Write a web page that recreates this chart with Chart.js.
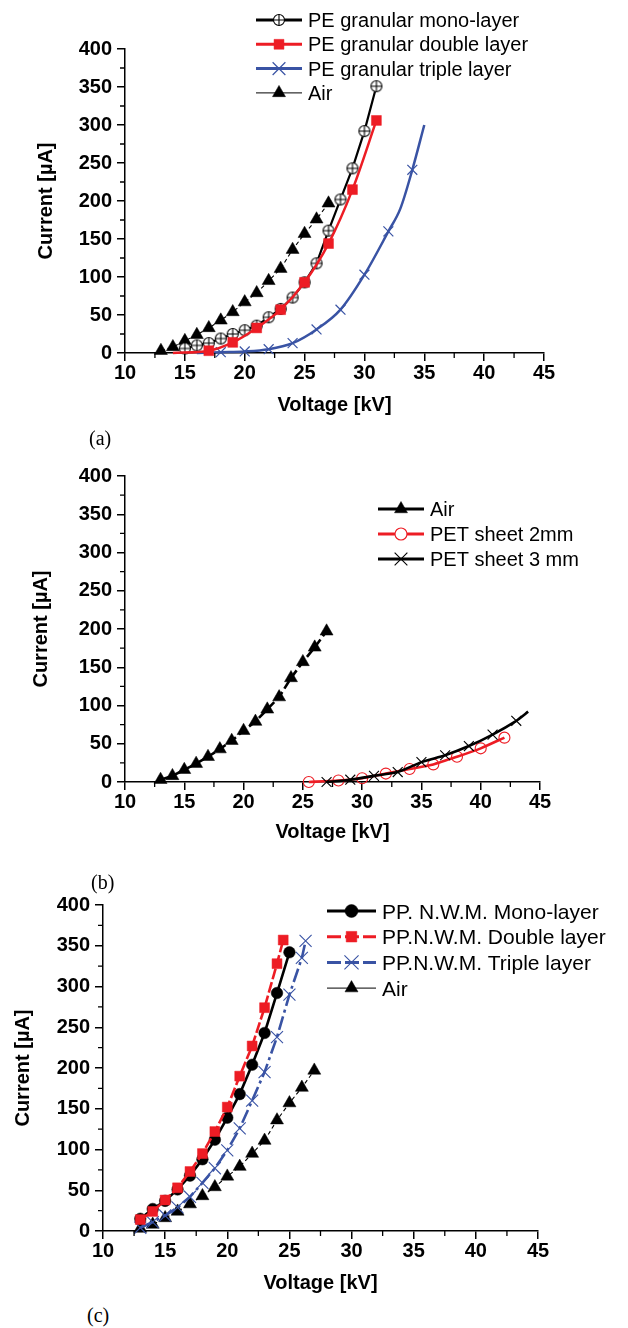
<!DOCTYPE html>
<html><head><meta charset="utf-8">
<script src="https://cdn.jsdelivr.net/npm/chart.js"></script>
<style>
html,body{margin:0;padding:0;background:#fff;}
body{width:628px;height:1328px;position:relative;overflow:hidden;}
canvas{position:absolute;left:0;}
.lab{position:absolute;font-family:"Liberation Serif","Times New Roman",serif;font-size:20px;line-height:20px;color:#000;}
</style></head><body>
<canvas id="ca" width="628" height="425" style="top:0px"></canvas>
<canvas id="cb" width="628" height="420" style="top:430px"></canvas>
<canvas id="cc" width="628" height="420" style="top:880px"></canvas>
<div class="lab" style="left:89px;top:428px">(a)</div>
<div class="lab" style="left:91px;top:872px">(b)</div>
<div class="lab" style="left:87px;top:1305px">(c)</div>
<script>
// ---------- data ----------
const voltageTicks = [10, 15, 20, 25, 30, 35, 40, 45];
const currentTicks = [0, 50, 100, 150, 200, 250, 300, 350, 400];

const airV = [13, 14, 15, 16, 17, 18, 19, 20, 21, 22, 23, 24, 25, 26, 27];
const airI = [3, 8, 16, 24, 33, 43, 54, 67, 79, 95, 111, 136, 157, 176, 197];

// (a) PE granular
const peMonoV = [15, 16, 17, 18, 19, 20, 21, 22, 23, 24, 25, 26, 27, 28, 29, 30, 31];
const peMonoI = [6, 10, 13, 19, 25, 30, 36, 47, 58, 73, 93, 118, 161, 202, 243, 292, 351];
const peDoubleV = [14, 17, 19, 21, 23, 25, 27, 29, 31];
const peDoubleI = [0, 3, 14, 33, 57, 93, 144, 215, 306];
const peTripleV = [16, 18, 20, 22, 24, 26, 28, 30, 32, 33, 34, 35];
const peTripleI = [0, 1, 2, 5, 13, 31, 57, 103, 160, 190, 241, 300];

// (b) PET sheet
const pet2V = [25.5, 28, 30, 32, 34, 36, 38, 40, 42];
const pet2I = [0, 2, 5, 11, 17, 23, 33, 44, 58];
const pet3V = [27, 29, 31, 33, 35, 37, 39, 41, 43, 44];
const pet3I = [0, 3, 8, 13, 26, 35, 47, 62, 80, 92];

// (c) PP N.W.M.
const ppMonoV = [13, 14, 15, 16, 17, 18, 19, 20, 21, 22, 23, 24, 25];
const ppMonoI = [15, 27, 37, 51, 68, 88, 112, 139, 168, 204, 243, 292, 342];
const ppDoubleV = [13, 14, 15, 16, 17, 18, 19, 20, 21, 22, 23, 24, 24.5];
const ppDoubleI = [14, 24, 38, 53, 73, 95, 122, 152, 190, 227, 274, 328, 357];
const ppTripleV = [13, 14, 15, 16, 17, 18, 19, 20, 21, 22, 23, 24, 25, 26, 26.3];
const ppTripleI = [4, 11, 19, 29, 42, 59, 77, 99, 126, 160, 195, 238, 290, 335, 356];

// ---------- styling ----------
const RED = '#ed1c24', BLUE = '#3953a4', BLACK = '#000';
const SANS = '"Liberation Sans", Arial, Helvetica, sans-serif';
Chart.defaults.font.family = SANS;
Chart.defaults.color = '#000';

const pts = (xs, ys) => xs.map((x, i) => ({x: x, y: ys[i]}));

function makeCirclePlus(r) {
  const s = Math.ceil(2 * r + 3);
  const c = document.createElement('canvas');
  c.width = s; c.height = s;
  const g = c.getContext('2d'); const m = s / 2;
  g.fillStyle = '#fff'; g.strokeStyle = '#000'; g.lineWidth = 1.1;
  g.beginPath(); g.arc(m, m, r, 0, Math.PI * 2); g.fill(); g.stroke();
  g.beginPath(); g.moveTo(m, m - r); g.lineTo(m, m + r); g.moveTo(m - r, m); g.lineTo(m + r, m); g.stroke();
  return c;
}
const circlePlus = makeCirclePlus(5.5);

function drawMarker(ctx, st, x, y) {
  const r = st.r, style = st.style;
  ctx.save();
  ctx.setLineDash([]);
  if (typeof style === 'object') {
    ctx.drawImage(style, x - style.width / 2, y - style.height / 2);
    ctx.restore(); return;
  }
  ctx.fillStyle = st.fill || 'transparent';
  ctx.strokeStyle = st.stroke || '#000';
  ctx.lineWidth = st.lw || 1;
  ctx.beginPath();
  if (style === 'circle') {
    ctx.arc(x, y, r, 0, Math.PI * 2);
  } else if (style === 'rect') {
    const s = Math.SQRT1_2 * r;
    ctx.rect(x - s, y - s, 2 * s, 2 * s);
  } else if (style === 'triangle') {
    let a = 0;
    ctx.moveTo(x + Math.sin(a) * r, y - Math.cos(a) * r);
    a += 2 * Math.PI / 3; ctx.lineTo(x + Math.sin(a) * r, y - Math.cos(a) * r);
    a += 2 * Math.PI / 3; ctx.lineTo(x + Math.sin(a) * r, y - Math.cos(a) * r);
    ctx.closePath();
  } else if (style === 'crossRot') {
    const s = Math.SQRT1_2 * r;
    ctx.moveTo(x - s, y - s); ctx.lineTo(x + s, y + s);
    ctx.moveTo(x - s, y + s); ctx.lineTo(x + s, y - s);
  }
  if (st.fill && style !== 'crossRot') ctx.fill();
  if (st.lw > 0) ctx.stroke();
  ctx.restore();
}

const boxLegend = {
  id: 'boxLegend',
  afterDraw(chart, args, o) {
    if (!o || !o.items) return;
    const ctx = chart.ctx;
    ctx.save();
    o.items.forEach((it, i) => {
      const y = o.y0 + i * o.dy;
      ctx.strokeStyle = it.color; ctx.lineWidth = it.lw;
      ctx.setLineDash(it.dash || []);
      ctx.beginPath(); ctx.moveTo(o.x0, y); ctx.lineTo(o.x1, y); ctx.stroke();
      drawMarker(ctx, it.marker, (o.x0 + o.x1) / 2, y);
      ctx.fillStyle = '#000'; ctx.font = o.font;
      ctx.textBaseline = 'alphabetic'; ctx.textAlign = 'left';
      ctx.fillText(it.label, o.tx, y + o.capHalf);
    });
    ctx.restore();
  }
};

const minorTicks = {
  id: 'minorTicks',
  afterDraw(chart) {
    const {ctx, scales, chartArea} = chart;
    ctx.save(); ctx.strokeStyle = '#000'; ctx.lineWidth = 1.3; ctx.beginPath();
    for (let i = 0; i < voltageTicks.length - 1; i++) {
      const px = scales.x.getPixelForValue((voltageTicks[i] + voltageTicks[i + 1]) / 2);
      ctx.moveTo(px, chartArea.bottom); ctx.lineTo(px, chartArea.bottom + 5);
    }
    for (let i = 0; i < currentTicks.length - 1; i++) {
      const py = scales.y.getPixelForValue((currentTicks[i] + currentTicks[i + 1]) / 2);
      ctx.moveTo(chartArea.left, py); ctx.lineTo(chartArea.left - 5, py);
    }
    ctx.stroke(); ctx.restore();
  }
};

function scalesCfg(L) {
  const tickFont = {family: SANS, size: 20, weight: 'bold'};
  const titleFont = {family: SANS, size: 20, weight: 'bold'};
  return {
    x: {
      type: 'linear', min: 10, max: 45,
      afterBuildTicks: s => { s.ticks = voltageTicks.map(v => ({value: v})); },
      afterFit: s => { s.height = L.xH; },
      ticks: {font: tickFont, color: '#000', padding: 0, maxRotation: 0, autoSkip: false},
      grid: {drawOnChartArea: false, tickLength: 8, color: '#000', lineWidth: 1.5},
      border: {display: true, color: '#000', width: 1.5},
      title: {display: true, text: 'Voltage [kV]', font: titleFont, color: '#000', padding: {top: 0, bottom: L.xPad}}
    },
    y: {
      type: 'linear', min: 0, max: 400,
      afterBuildTicks: s => { s.ticks = currentTicks.map(v => ({value: v})); },
      afterFit: s => { s.width = L.yW; },
      ticks: {font: tickFont, color: '#000', padding: 5},
      grid: {drawOnChartArea: false, tickLength: 8, color: '#000', lineWidth: 1.5},
      border: {display: true, color: '#000', width: 1.5},
      title: {display: true, text: 'Current [µA]', font: titleFont, color: '#000', padding: {top: L.yPad, bottom: 0}}
    }
  };
}

function makeChart(id, datasets, L, legend) {
  return new Chart(document.getElementById(id), {
    type: 'line',
    data: {datasets: datasets},
    options: {
      responsive: false, animation: false, devicePixelRatio: 1,
      layout: {padding: {top: L.top, right: L.right, left: 0, bottom: 0}},
      scales: scalesCfg(L),
      plugins: {legend: {display: false}, tooltip: {enabled: false}, boxLegend: legend}
    },
    plugins: [minorTicks, boxLegend]
  });
}

// ---------- chart (a) ----------
const peDoubleNoMarker = [14];
const peTripleNoMarker = [16, 33, 35];
const aMono = {label: 'PE granular mono-layer', data: pts(peMonoV, peMonoI), borderColor: BLACK, borderWidth: 2.2,
  pointStyle: circlePlus, pointRadius: 6, order: 1, clip: false, tension: 0};
const aDouble = {label: 'PE granular double layer', data: pts(peDoubleV, peDoubleI), borderColor: RED, borderWidth: 2.5,
  pointStyle: 'rect', pointRadius: c => peDoubleNoMarker.includes(c.raw && c.raw.x) ? 0 : 7, pointBackgroundColor: RED,
  pointBorderColor: RED, pointBorderWidth: 0.5, cubicInterpolationMode: 'monotone', order: 0, clip: false};
const aTriple = {label: 'PE granular triple layer', data: pts(peTripleV, peTripleI), borderColor: BLUE, borderWidth: 2.5,
  pointStyle: 'crossRot', pointRadius: c => peTripleNoMarker.includes(c.raw && c.raw.x) ? 0 : 7,
  pointBorderColor: BLUE, pointBorderWidth: 1.2, cubicInterpolationMode: 'monotone', order: 2, clip: false};
const aAir = {label: 'Air', data: pts(airV, airI), borderColor: BLACK, borderWidth: 1.1, borderDash: [4, 3],
  pointStyle: 'triangle', pointRadius: 7.5, pointBackgroundColor: BLACK, pointBorderColor: BLACK, pointBorderWidth: 0.5,
  order: 3, clip: false, tension: 0};

makeChart('ca', [aMono, aDouble, aTriple, aAir],
  {top: 49, right: 84, yW: 125, xH: 72, yPad: 34, xPad: 8},
  {x0: 256, x1: 302, tx: 308, y0: 20, dy: 24.3, capHalf: 7, font: '20px ' + SANS, items: [
    {label: aMono.label, color: BLACK, lw: 3, marker: {style: circlePlus}},
    {label: aDouble.label, color: RED, lw: 3, marker: {style: 'rect', r: 7, fill: RED, stroke: RED, lw: 0.5}},
    {label: aTriple.label, color: BLUE, lw: 3, marker: {style: 'crossRot', r: 9, stroke: BLUE, lw: 1.2}},
    {label: aAir.label, color: BLACK, lw: 1, marker: {style: 'triangle', r: 7.5, fill: BLACK, stroke: BLACK, lw: 0.5}}
  ]});

// ---------- chart (b) ----------
const pet3NoMarker = [44];
const bAir = {label: 'Air', data: pts(airV, airI), borderColor: BLACK, borderWidth: 2.6, borderDash: [9, 4],
  pointStyle: 'triangle', pointRadius: 7.5, pointBackgroundColor: BLACK, pointBorderColor: BLACK, pointBorderWidth: 0.5,
  order: 2, clip: false, tension: 0};
const bPet2 = {label: 'PET sheet 2mm', data: pts(pet2V, pet2I), borderColor: RED, borderWidth: 2.6,
  pointStyle: 'circle', pointRadius: 5.5, pointBackgroundColor: 'rgba(255,255,255,0)', pointBorderColor: RED,
  pointBorderWidth: 1.1, order: 1, clip: false, tension: 0.2};
const bPet3 = {label: 'PET sheet 3 mm', data: pts(pet3V, pet3I), borderColor: BLACK, borderWidth: 2.6,
  pointStyle: 'crossRot', pointRadius: c => pet3NoMarker.includes(c.raw && c.raw.x) ? 0 : 7,
  pointBorderColor: BLACK, pointBorderWidth: 1.1, order: 0, clip: false, tension: 0.2};

makeChart('cb', [bAir, bPet2, bPet3],
  {top: 46, right: 88, yW: 125, xH: 68, yPad: 29, xPad: 6},
  {x0: 378, x1: 424, tx: 430, y0: 79, dy: 25, capHalf: 7, font: '20px ' + SANS, items: [
    {label: bAir.label, color: BLACK, lw: 3, marker: {style: 'triangle', r: 7.5, fill: BLACK, stroke: BLACK, lw: 0.5}},
    {label: bPet2.label, color: RED, lw: 3, marker: {style: 'circle', r: 6, fill: '#fff', stroke: RED, lw: 1.1}},
    {label: bPet3.label, color: BLACK, lw: 3, marker: {style: 'crossRot', r: 9, stroke: BLACK, lw: 1.1}}
  ]});

// ---------- chart (c) ----------
const cMono = {label: 'PP. N.W.M. Mono-layer', data: pts(ppMonoV, ppMonoI), borderColor: BLACK, borderWidth: 2.6,
  pointStyle: 'circle', pointRadius: 5.8, pointBackgroundColor: BLACK, pointBorderColor: BLACK, pointBorderWidth: 0.5,
  order: 1, clip: false, tension: 0};
const cDouble = {label: 'PP.N.W.M. Double layer', data: pts(ppDoubleV, ppDoubleI), borderColor: RED, borderWidth: 2.6,
  borderDash: [11, 3], pointStyle: 'rect', pointRadius: 7, pointBackgroundColor: RED, pointBorderColor: RED,
  pointBorderWidth: 0.5, order: 0, clip: false, tension: 0};
const cTriple = {label: 'PP.N.W.M. Triple layer', data: pts(ppTripleV, ppTripleI), borderColor: BLUE, borderWidth: 2.6,
  borderDash: [14, 4, 3, 4], pointStyle: 'crossRot', pointRadius: 8.5, pointBorderColor: BLUE, pointBorderWidth: 1.1,
  order: 2, clip: false, tension: 0};
const cAir = {label: 'Air', data: pts(airV, airI), borderColor: BLACK, borderWidth: 1.1, borderDash: [4, 3],
  pointStyle: 'triangle', pointRadius: 7.5, pointBackgroundColor: BLACK, pointBorderColor: BLACK, pointBorderWidth: 0.5,
  order: 3, clip: false, tension: 0};

makeChart('cc', [cMono, cDouble, cTriple, cAir],
  {top: 25, right: 90, yW: 103, xH: 69, yPad: 11, xPad: 5},
  {x0: 327, x1: 376, tx: 382, y0: 31, dy: 25.7, capHalf: 7.5, font: '21px ' + SANS, items: [
    {label: cMono.label, color: BLACK, lw: 3, marker: {style: 'circle', r: 6.5, fill: BLACK, stroke: BLACK, lw: 0.5}},
    {label: cDouble.label, color: RED, lw: 3, dash: [14, 4], marker: {style: 'rect', r: 7.5, fill: RED, stroke: RED, lw: 0.5}},
    {label: cTriple.label, color: BLUE, lw: 3, dash: [14, 4], marker: {style: 'crossRot', r: 10, stroke: BLUE, lw: 1.1}},
    {label: cAir.label, color: BLACK, lw: 1, marker: {style: 'triangle', r: 7.5, fill: BLACK, stroke: BLACK, lw: 0.5}}
  ]});
</script>
</body></html>
